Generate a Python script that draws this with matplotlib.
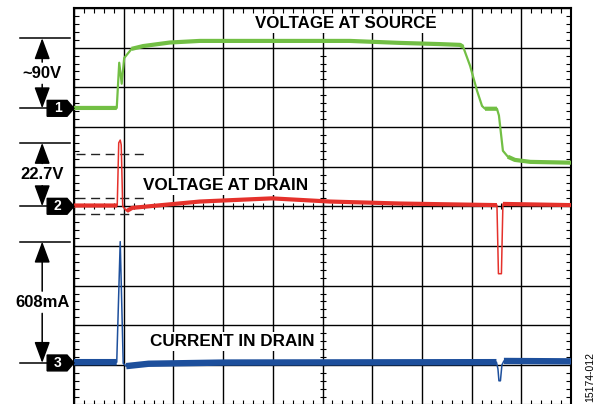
import matplotlib.pyplot as plt
import numpy as np
from matplotlib.patches import Polygon

plt.rcParams['font.family'] = ['Liberation Sans', 'DejaVu Sans']

# scope screen in divisions: time 0..10, amplitude -5..5 (centre line = 0)
src_t = [0, 0.86, 0.91, 0.96, 1.01, 1.16, 1.39, 1.93, 2.53, 3.54, 4.55, 5.55, 6.56, 7.36, 7.77,
         7.83, 7.97, 8.11, 8.21, 8.27, 8.51, 8.55, 8.63, 8.73, 8.87, 9.18, 10]
src_v = [2.48, 2.48, 3.62, 3.09, 3.74, 3.97, 4.04, 4.13, 4.17, 4.17, 4.17, 4.17, 4.12, 4.09, 4.07,
         4.02, 3.54, 2.91, 2.53, 2.46, 2.46, 2.29, 1.40, 1.25, 1.17, 1.12, 1.10]

drain_t = [0, 0.87, 0.90, 0.93, 0.95, 0.98, 1.06, 1.17, 2.53, 3.98, 5.15, 6.56, 8.51, 8.54, 8.60, 8.63, 10]
drain_v = [0.02, 0.02, 1.60, 1.67, 1.55, 0.0, -0.12, -0.04, 0.12, 0.20, 0.12, 0.07, 0.03, -1.70, -1.70, 0.06, 0.03]

cur_t = [0, 0.86, 0.93, 0.99, 1.05, 1.5, 3.0, 8.50, 8.53, 8.55, 8.58, 8.61, 8.65, 10]
cur_v = [-3.93, -3.93, -0.89, -3.96, -4.03, -3.97, -3.94, -3.93, -4.10, -4.40, -4.40, -4.00, -3.90, -3.91]

# time windows drawn as a thin line (fast edges), rest drawn as the noisy band
src_thin = [(0.87, 1.1), (7.9, 8.25), (8.53, 8.7)]
drain_thin = [(0.88, 1.0), (8.52, 8.62)]
cur_thin = [(0.88, 1.0), (8.52, 8.62)]

# channel ground markers and left-hand scale bars
ch_names = ['1', '2', '3']
ch_ground = [2.47, 0.0, -3.95]
ch_top = [4.24, 1.60, -0.89]
ch_labels = ['~90V', '22.7V', '608mA']

cursor_levels = [1.32, 0.20, -0.20]

green = '#72bf44'
red = '#e5312b'
blue = '#1d4f9c'

fig = plt.figure(figsize=(6, 4.04), dpi=100)
ax = fig.add_axes([74 / 600, -0.6 / 404, 497 / 600, 396.6 / 404])
ax.set_xlim(0, 10)
ax.set_ylim(-5, 5)

ax.set_xticks(np.arange(0, 11, 1))
ax.set_yticks(np.arange(-5, 6, 1))
ax.set_xticks(np.arange(0, 10.01, 0.2), minor=True)
ax.set_yticks(np.arange(-5, 5.01, 0.2), minor=True)
ax.grid(which='major', color='black', lw=1.0)
ax.tick_params(which='major', length=0, labelbottom=False, labelleft=False)
ax.tick_params(which='minor', direction='in', length=3.6, width=0.8,
               top=True, right=True, bottom=True, left=True)
for s in ax.spines.values():
    s.set_linewidth(1.5)

# ticks along the centre cross
mx = np.arange(0, 10.01, 0.2)
my = np.arange(-5, 5.01, 0.2)
ax.plot(mx, np.zeros_like(mx), ls='none', marker='|', ms=4.5, mew=0.8, color='black', zorder=2)
ax.plot(np.full_like(my, 5.0), my, ls='none', marker='_', ms=4.5, mew=0.8, color='black', zorder=2)


def trace(t, v, thin, color, lw_band, lw_thin):
    t = np.array(t)
    v = np.array(v, dtype=float)
    ax.plot(t, v, color=color, lw=lw_thin, zorder=4, solid_joinstyle='round')
    band = v.copy()
    for a, b in thin:
        band[(t > a) & (t < b)] = np.nan
    ax.plot(t, band, color=color, lw=lw_band, zorder=4, solid_capstyle='butt')


trace(src_t, src_v, src_thin, green, 3.0, 1.6)
trace(drain_t, drain_v, drain_thin, red, 3.0, 1.1)
trace(cur_t, cur_v, cur_thin, blue, 4.6, 1.1)

# cursor lines
for y in cursor_levels:
    ax.plot([0.05, 1.47], [y, y], color='#222222', lw=1.0, dashes=[6.5, 4], zorder=3)

# trace titles
box = dict(facecolor='white', edgecolor='none', pad=1.5)
ax.text(5.47, 4.62, 'VOLTAGE AT SOURCE', ha='center', va='center', fontsize=12.2,
        fontweight='bold', bbox=box, zorder=3)
ax.text(3.04, 0.52, 'VOLTAGE AT DRAIN', ha='center', va='center', fontsize=12.3,
        fontweight='bold', bbox=box, zorder=3)
ax.text(3.18, -3.42, 'CURRENT IN DRAIN', ha='center', va='center', fontsize=12.3,
        fontweight='bold', bbox=box, zorder=3)

# left side: channel markers and amplitude bars
for name, g, top, lab in zip(ch_names, ch_ground, ch_top, ch_labels):
    h = 0.2
    mk = Polygon([(-0.54, g - h), (-0.14, g - h), (0, g), (-0.14, g + h), (-0.54, g + h)],
                 closed=True, facecolor='black', edgecolor='black', clip_on=False, zorder=5)
    ax.add_patch(mk)
    ax.text(-0.33, g, name, color='white', fontsize=10, fontweight='bold',
            ha='center', va='center', clip_on=False, zorder=6)
    ax.plot([-1.09, -0.54], [g, g], color='black', lw=1.1, clip_on=False)
    ax.plot([-1.09, -0.08], [top, top], color='black', lw=1.1, clip_on=False)
    mid = (g + top) / 2
    ax.text(-0.64, mid, lab, fontsize=12, fontweight='bold', ha='center', va='center')
    for end, start in [(top, mid + 0.28), (g, mid - 0.28)]:
        ax.annotate('', xy=(-0.64, end), xytext=(-0.64, start),
                    arrowprops=dict(arrowstyle='-|>,head_length=0.65,head_width=0.24',
                                    mutation_scale=20, color='black', lw=1.1,
                                    shrinkA=0, shrinkB=0),
                    annotation_clip=False)

fig.text(590 / 600, 0.067, '15174-012', rotation=90, fontsize=7.5,
         ha='center', va='center')

fig.savefig('out.png', dpi=100)
